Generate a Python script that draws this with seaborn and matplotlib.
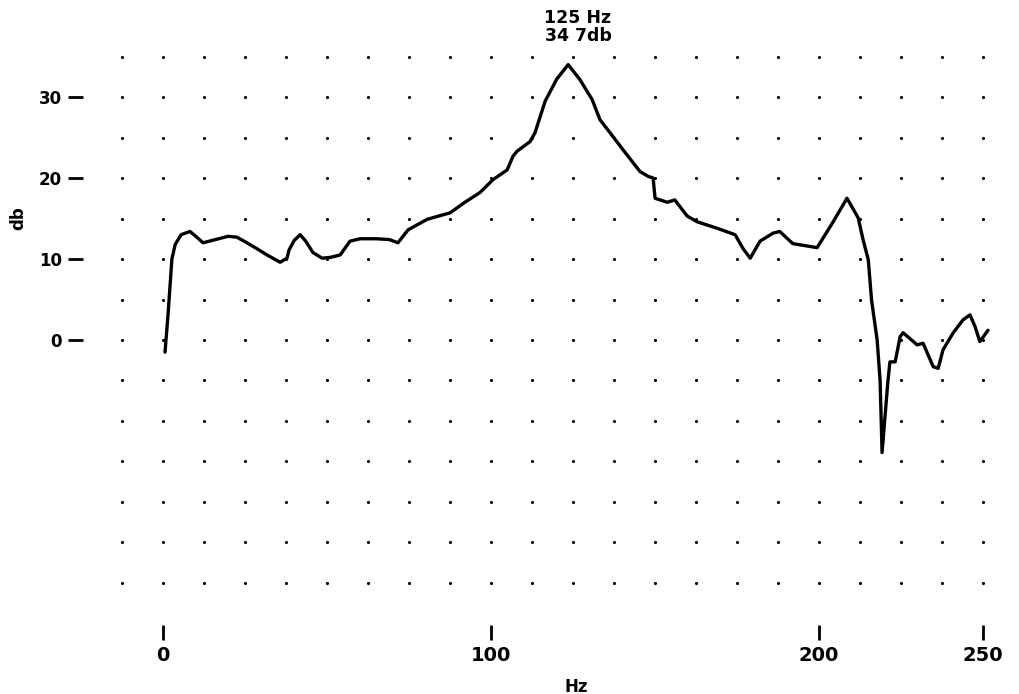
import numpy as np
import pandas as pd
import seaborn as sns
import matplotlib
matplotlib.use("Agg")
import matplotlib.pyplot as plt

# frequency response
hz = [0.6, 1.5, 2.7, 3.7, 5.5, 8.2, 10, 12.2, 16, 19.8, 22.5, 25.6, 28.5, 31.7,
      35.7, 37.8, 38.4, 40, 41.8, 43.5, 45.7, 48.5, 51, 54, 57, 60, 65, 69,
      71.6, 74.7, 80.5, 87.5, 92, 96.6, 100.6, 104.9, 106.7, 107.9, 111.9,
      113.4, 116.5, 120, 123.5, 127, 130.8, 133.2, 137.2, 140.2, 145.4, 147.9,
      149.4, 150, 153.7, 156, 159.8, 162.8, 168.9, 174.4, 176.8, 179, 182,
      186, 188, 192, 199.4, 204.3, 208.5, 211.9, 213.4, 215, 216, 217.7,
      218.6, 219.2, 220, 221, 221.6, 223.2, 224.7, 225.6, 229.9, 231.7, 234.8,
      236.3, 237.8, 240.9, 243.9, 246, 247.6, 249, 251.5]
db = [-1.5, 3, 10, 11.8, 13, 13.4, 12.8, 12.0, 12.4, 12.8, 12.7, 12.0, 11.3, 10.5,
      9.6, 10.1, 11.1, 12.3, 13.0, 12.2, 10.8, 10.1, 10.2, 10.5, 12.2, 12.5, 12.5, 12.4,
      12.0, 13.6, 14.9, 15.7, 17.0, 18.2, 19.8, 21.0, 22.7, 23.3, 24.5,
      25.6, 29.5, 32.2, 34.0, 32.2, 29.7, 27.2, 25.1, 23.5, 20.8, 20.2,
      20.0, 17.5, 17.0, 17.3, 15.3, 14.6, 13.8, 13.0, 11.3, 10.1, 12.2,
      13.2, 13.4, 11.9, 11.4, 14.6, 17.5, 15.1, 12.4, 9.9, 4.9, 0,
      -5, -13.9, -9.9, -5, -2.7, -2.7, 0.4, 0.9, -0.6, -0.4, -3.3,
      -3.5, -1.2, 0.9, 2.5, 3.1, 1.6, -0.2, 1.2]

x_ticks = [0, 100, 200, 250]
y_ticks = [0, 10, 20, 30]
grid_x = np.arange(-12.5, 251, 12.5)
grid_y = np.arange(-30, 36, 5)

df = pd.DataFrame({"Hz": hz, "db": db})

sns.set_style("white")
plt.rcParams["font.family"] = ["DejaVu Sans"]
plt.rcParams["font.weight"] = "bold"
plt.rcParams["text.color"] = "black"
plt.rcParams["axes.labelcolor"] = "black"
plt.rcParams["xtick.color"] = "black"
plt.rcParams["ytick.color"] = "black"

fig = plt.figure(figsize=(10.2, 6.94), dpi=100)
ax = fig.add_axes([83 / 1020, 1 - 640 / 694, 927 / 1020, 600 / 694])

# dotted grid (dots at intersections)
gx, gy = np.meshgrid(grid_x, grid_y)
ax.scatter(gx.ravel(), gy.ravel(), s=5, color="black", linewidths=0, zorder=1)

sns.lineplot(data=df, x="Hz", y="db", color="black", linewidth=2.4, ax=ax, zorder=3)

ax.set_xlim(-24.4, 258.2)
ax.set_ylim(-37.04, 37.04)
for s in ax.spines.values():
    s.set_visible(False)

ax.set_xticks(x_ticks)
ax.set_yticks(y_ticks)
ax.tick_params(axis="x", direction="in", length=11, width=2, pad=4,
               labelsize=14, bottom=True, colors="black")
ax.tick_params(axis="y", direction="out", length=11, width=2, pad=4,
               labelsize=12, left=True, colors="black")

ax.set_xlabel("Hz", fontsize=12, fontweight="bold")
ax.xaxis.set_label_coords(0.532, -0.063)
ax.set_ylabel("db", fontsize=12, fontweight="bold")
ax.yaxis.set_label_coords(-0.060, 0.703)

fig.text(578 / 1020, 1 - 27 / 694, "125 Hz\n34 7db", ha="center", va="center",
         fontsize=12.5, fontweight="bold", linespacing=1.0)

fig.savefig("out.png", dpi=100)
